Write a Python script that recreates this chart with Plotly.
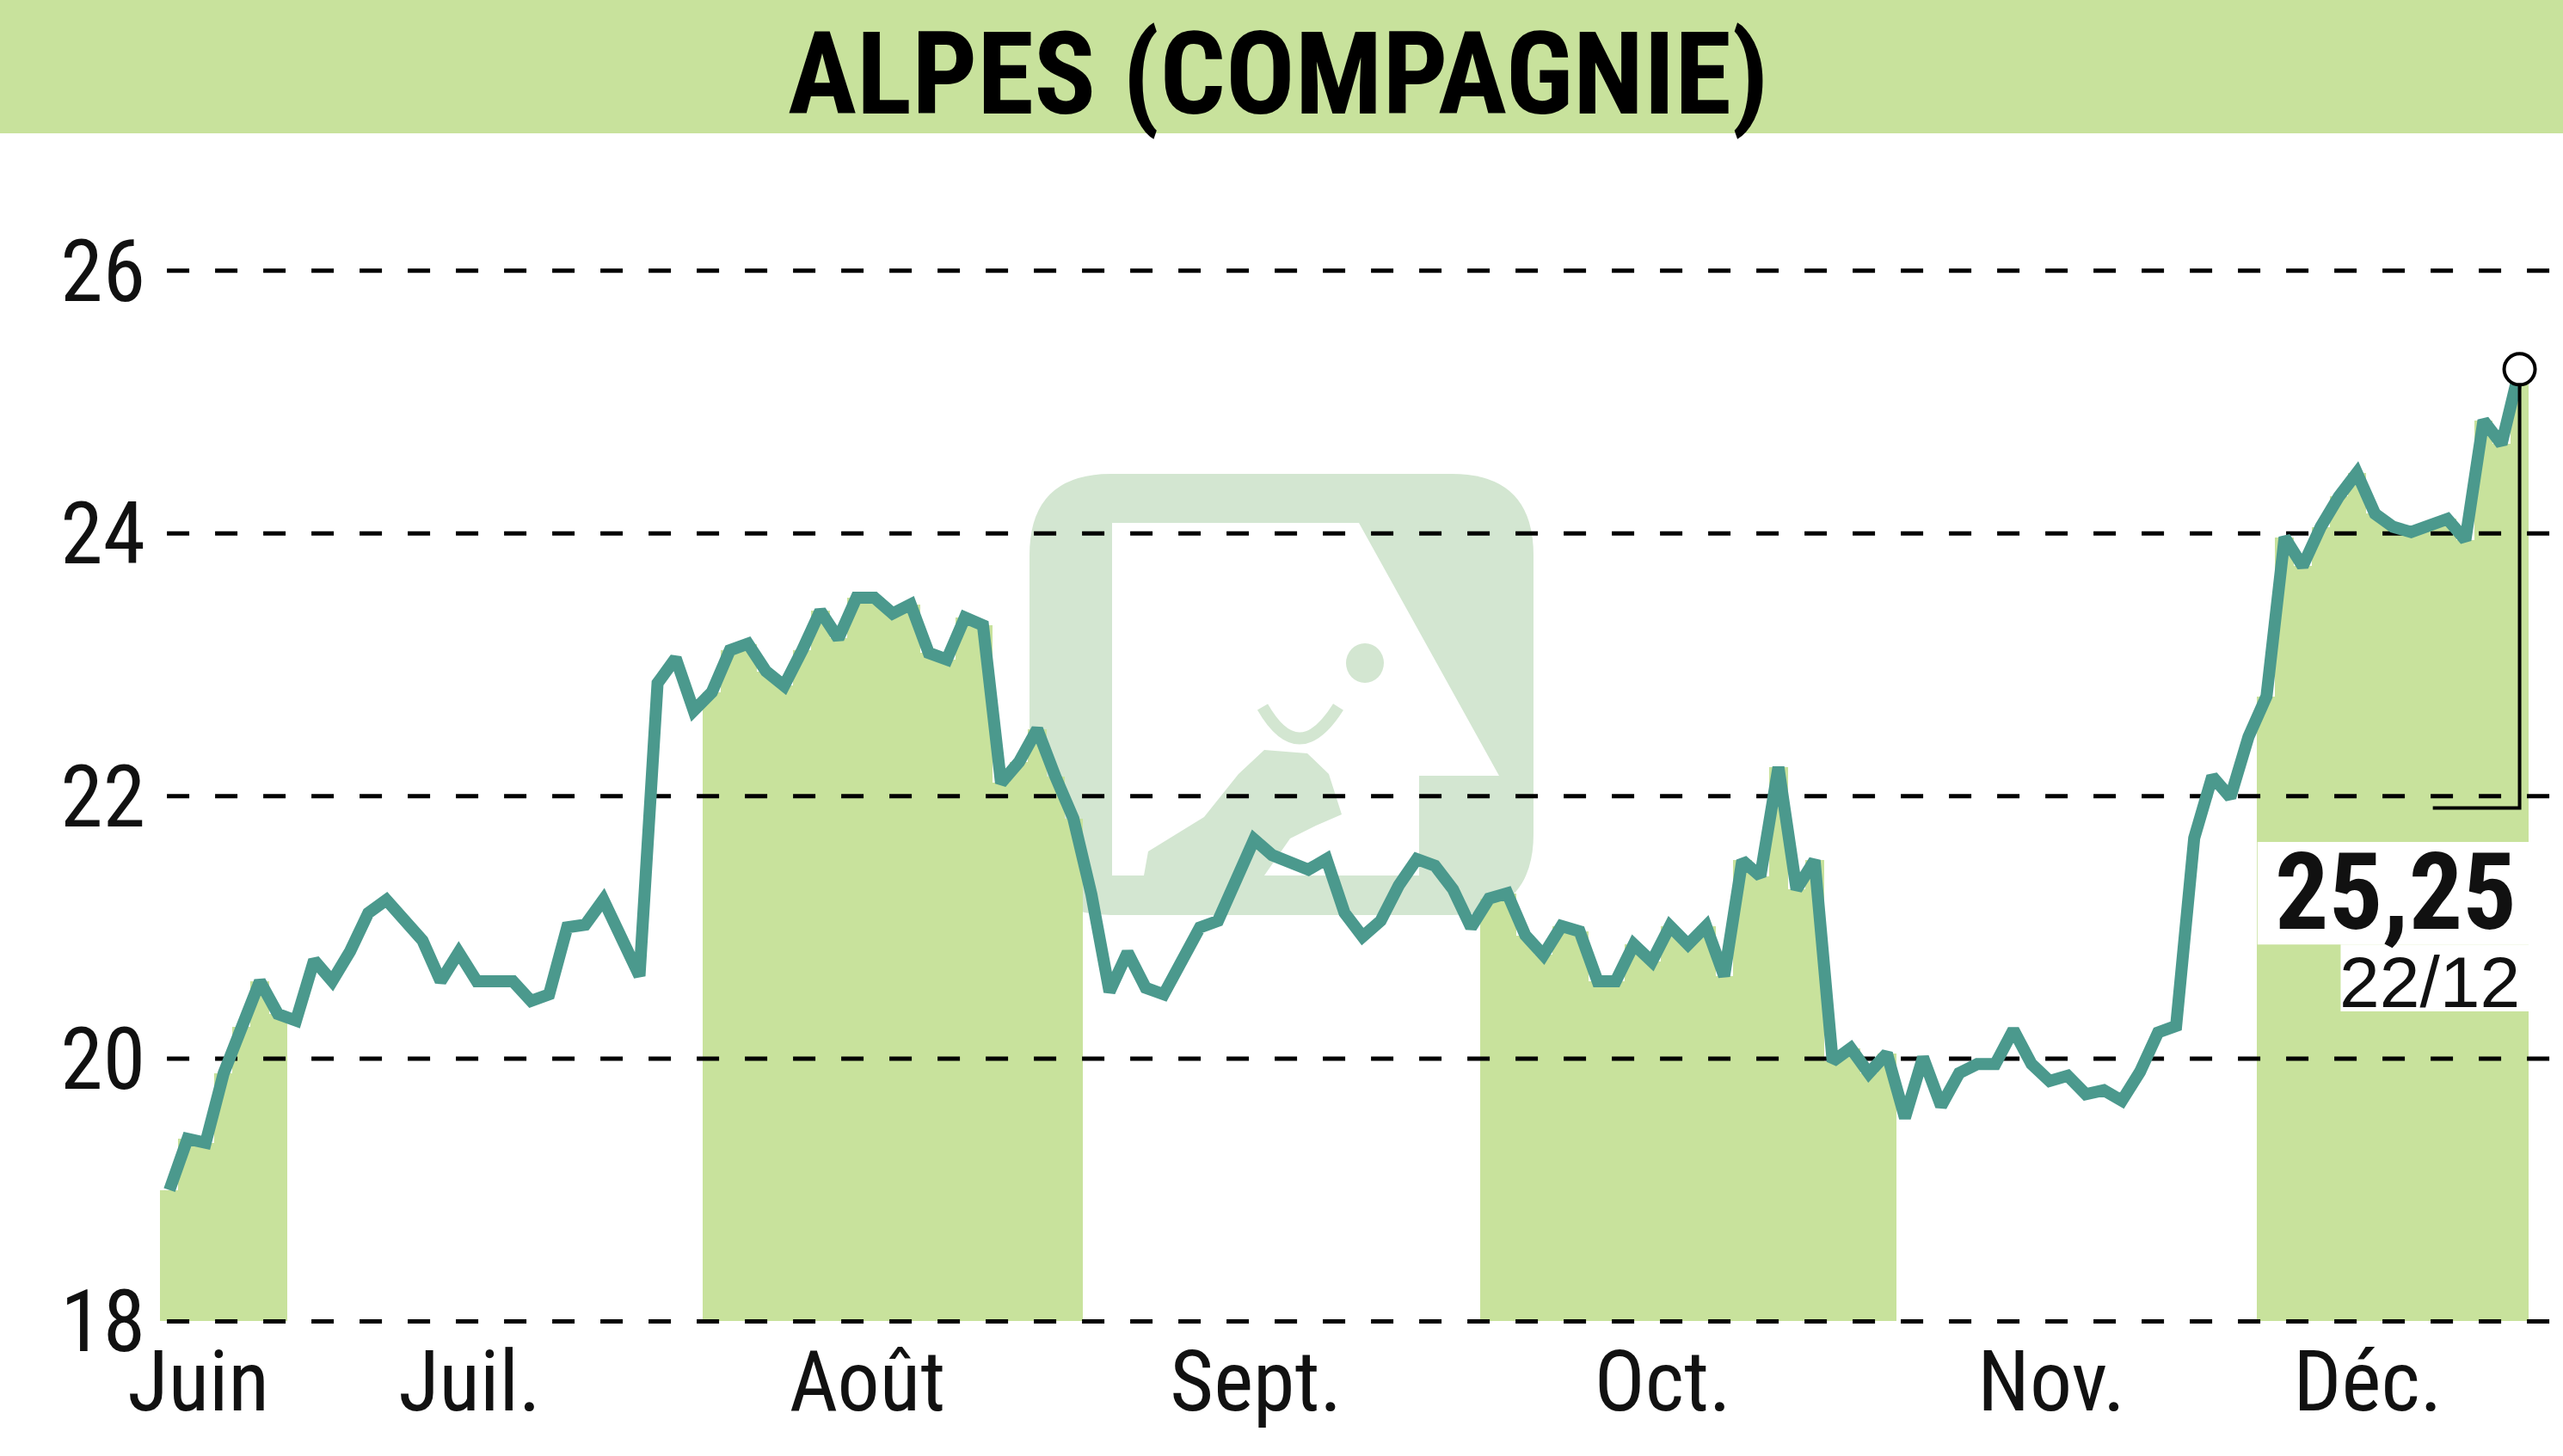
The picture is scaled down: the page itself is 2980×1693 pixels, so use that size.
import plotly.graph_objects as go

# ---------------- data ----------------
months = ["Juin", "Juil.", "Août", "Sept.", "Oct.", "Nov.", "Déc."]
juin = [19.00, 19.39, 19.36, 19.89, 20.24, 20.59, 20.34]
juil = [20.29, 20.75, 20.59, 20.82, 21.11, 21.21, 21.05, 20.90, 20.59, 20.81, 20.59,
        20.59, 20.59, 20.44, 20.49, 21.00, 21.02, 21.21, 20.91, 20.63, 22.86, 23.05, 22.65]
aout = [22.79, 23.11, 23.16, 22.95, 22.84, 23.11, 23.41, 23.20, 23.51, 23.51, 23.39,
        23.46, 23.09, 23.04, 23.36, 23.30, 22.10, 22.26, 22.51, 22.15, 21.83]
sept = [21.25, 20.51, 20.81, 20.54, 20.49, 20.75, 21.00, 21.05, 21.37, 21.67, 21.55,
        21.50, 21.44, 21.52, 21.11, 20.93, 21.05, 21.32, 21.52, 21.47, 21.29, 21.00]
octo = [21.22, 21.26, 20.94, 20.79, 21.01, 20.97, 20.59, 20.59, 20.87, 20.74, 21.01,
        20.87, 21.01, 20.63, 21.51, 21.39, 22.22, 21.29, 21.51, 19.98, 20.08, 19.89, 20.04]
nov = [19.55, 20.01, 19.64, 19.89, 19.96, 19.96, 20.22, 19.96, 19.83, 19.87, 19.73,
       19.76, 19.68, 19.90, 20.20, 20.25, 21.68, 22.15, 21.99, 22.45]
dec = [22.76, 23.97, 23.75, 24.05, 24.28, 24.46, 24.15, 24.05, 24.01, 24.05, 24.11,
       23.95, 24.86, 24.68, 25.25]
y_ticks = [18, 20, 22, 24, 26]
title_text = "ALPES (COMPAGNIE)"
last_label = "25,25"
last_date = "22/12"

# ---------------- styling ----------------
W, H = 2980, 1693
ML, MR, MT, MB = 184, 0, 269, 126
PW, PH = W - ML - MR, H - MT - MB
GREEN = "#c8e29c"
LINE = "#4b998d"
NARROW = ("Liberation Sans Narrow, Roboto Condensed, Noto Sans ExtraCondensed, "
          "Noto Sans Condensed, DejaVu Sans Condensed, sans-serif")
REG = "Liberation Sans, Arial, sans-serif"
XR = [-0.62, 132.4]
YR = [17.8, 26.3]


def fx(px):
    return (px - ML) / PW


def fy(py):
    return (H - MB - py) / PH


series = [juin, juil, aout, sept, octo, nov, dec]
values, idx, month_of = [], [], []
for m, s in enumerate(series):
    for v in s:
        idx.append(len(values))
        values.append(v)
        month_of.append(m)

fig = go.Figure()

# alternating month fill (steps under the curve)
fx_i = [i for i in idx if month_of[i] % 2 == 0]
fig.add_trace(go.Bar(
    x=fx_i, y=[values[i] - 18 for i in fx_i], base=18, width=1.03,
    marker=dict(color=GREEN, line=dict(width=0)), hoverinfo="skip", showlegend=False))

# dashed grid lines (above fill, below the price line)
gx, gy = [], []
for t in y_ticks:
    gx += [-0.14, XR[1], None]
    gy += [t, t, None]
fig.add_trace(go.Scatter(x=gx, y=gy, mode="lines",
                         line=dict(color="black", width=5, dash="26px,30px"),
                         hoverinfo="skip", showlegend=False))

# price line
fig.add_trace(go.Scatter(x=idx, y=values, mode="lines",
                         line=dict(color=LINE, width=14), hoverinfo="skip", showlegend=False))

# last value bracket and marker
li = idx[-1]
fig.add_trace(go.Scatter(x=[125.2, li, li], y=[21.91, 21.91, values[-1]], mode="lines",
                         line=dict(color="black", width=4), hoverinfo="skip", showlegend=False))
fig.add_trace(go.Scatter(x=[li], y=[values[-1]], mode="markers", cliponaxis=False,
                         marker=dict(symbol="circle", size=36, color="white",
                                     line=dict(color="black", width=4)),
                         hoverinfo="skip", showlegend=False))

# month label positions
tickvals = []
for m in range(len(months)):
    ii = [i for i in idx if month_of[i] == m]
    tickvals.append((ii[0] + ii[-1]) / 2 - 1.4)

shapes = []
# title bar
shapes.append(dict(type="rect", xref="paper", yref="paper", x0=fx(0), x1=fx(W),
                   y0=fy(155), y1=fy(0), fillcolor=GREEN, line=dict(width=0), layer="above"))


# watermark logo (decorative)
def rpath(x0, y0, x1, y1, r):
    X0, X1, Y0, Y1 = fx(x0), fx(x1), fy(y0), fy(y1)
    rx, ry = r / PW, r / PH
    return (f"M {X0+rx},{Y0} L {X1-rx},{Y0} Q {X1},{Y0} {X1},{Y0-ry} "
            f"L {X1},{Y1+ry} Q {X1},{Y1} {X1-rx},{Y1} L {X0+rx},{Y1} "
            f"Q {X0},{Y1} {X0},{Y1+ry} L {X0},{Y0-ry} Q {X0},{Y0} {X0+rx},{Y0} Z")


def poly(pts):
    return "M " + " L ".join(f"{fx(a)},{fy(b)}" for a, b in pts) + " Z"


WM = "#d3e6d1"
shapes.append(dict(type="path", xref="paper", yref="paper", path=rpath(1197, 551, 1783, 1064, 95),
                   fillcolor=WM, line=dict(width=0), layer="below"))
shapes.append(dict(type="path", xref="paper", yref="paper",
                   path=poly([(1293, 608), (1580, 608), (1743, 902), (1650, 902),
                              (1650, 1018), (1293, 1018)]),
                   fillcolor="white", line=dict(width=0), layer="below"))
shapes.append(dict(type="path", xref="paper", yref="paper",
                   path=poly([(1330, 1018), (1335, 990), (1400, 950), (1440, 900), (1470, 872),
                              (1520, 876), (1545, 900), (1560, 947), (1530, 960), (1500, 975),
                              (1470, 1018)]),
                   fillcolor=WM, line=dict(width=0), layer="below"))
shapes.append(dict(type="path", xref="paper", yref="paper",
                   path=f"M {fx(1468)},{fy(822)} Q {fx(1510)},{fy(895)} {fx(1556)},{fy(822)}",
                   line=dict(color=WM, width=14), layer="below"))
shapes.append(dict(type="circle", xref="paper", yref="paper", x0=fx(1565), x1=fx(1609),
                   y0=fy(794), y1=fy(748), fillcolor=WM, line=dict(width=0), layer="below"))

# white boxes behind the last value label
shapes.append(dict(type="rect", xref="x", yref="y", x0=115.5, x1=130.6, y0=20.87, y1=21.65,
                   fillcolor="white", line=dict(width=0), layer="above"))
shapes.append(dict(type="rect", xref="x", yref="y", x0=120.1, x1=130.6, y0=20.36, y1=20.87,
                   fillcolor="white", line=dict(width=0), layer="above"))

annotations = [
    dict(text=title_text, xref="paper", yref="paper", x=fx(1486), y=fy(86),
         xanchor="center", yanchor="middle", showarrow=False,
         font=dict(family=NARROW, size=134, color="black", weight=700)),
    dict(text=last_label, xref="paper", yref="paper", x=fx(2928), y=fy(1037),
         xanchor="right", yanchor="middle", showarrow=False,
         font=dict(family=NARROW, size=124, color="#111111", weight=700)),
    dict(text=last_date, xref="paper", yref="paper", x=fx(2932), y=fy(1142),
         xanchor="right", yanchor="middle", showarrow=False,
         font=dict(family=REG, size=84, color="#111111")),
]

fig.update_layout(
    width=W, height=H, margin=dict(l=ML, r=MR, t=MT, b=MB, pad=0),
    paper_bgcolor="white", plot_bgcolor="white", bargap=0,
    shapes=shapes, annotations=annotations, showlegend=False,
    xaxis=dict(range=XR, showgrid=False, zeroline=False, showline=False, ticks="",
               automargin=False, tickvals=tickvals, ticktext=months, ticklabelstandoff=-26,
               tickfont=dict(family=NARROW, size=98, color="#111111")),
    yaxis=dict(range=YR, showgrid=False, zeroline=False, showline=False, ticks="",
               automargin=False, tickvals=y_ticks, ticktext=[str(t) for t in y_ticks],
               ticklabelstandoff=14, tickfont=dict(family=NARROW, size=100, color="#111111")),
)

fig.write_html("out.html", config={"displayModeBar": False}, post_script=(
    "document.documentElement.style.margin='0';document.body.style.margin='0';"
    "document.body.style.padding='0';document.body.style.overflow='hidden';"))
